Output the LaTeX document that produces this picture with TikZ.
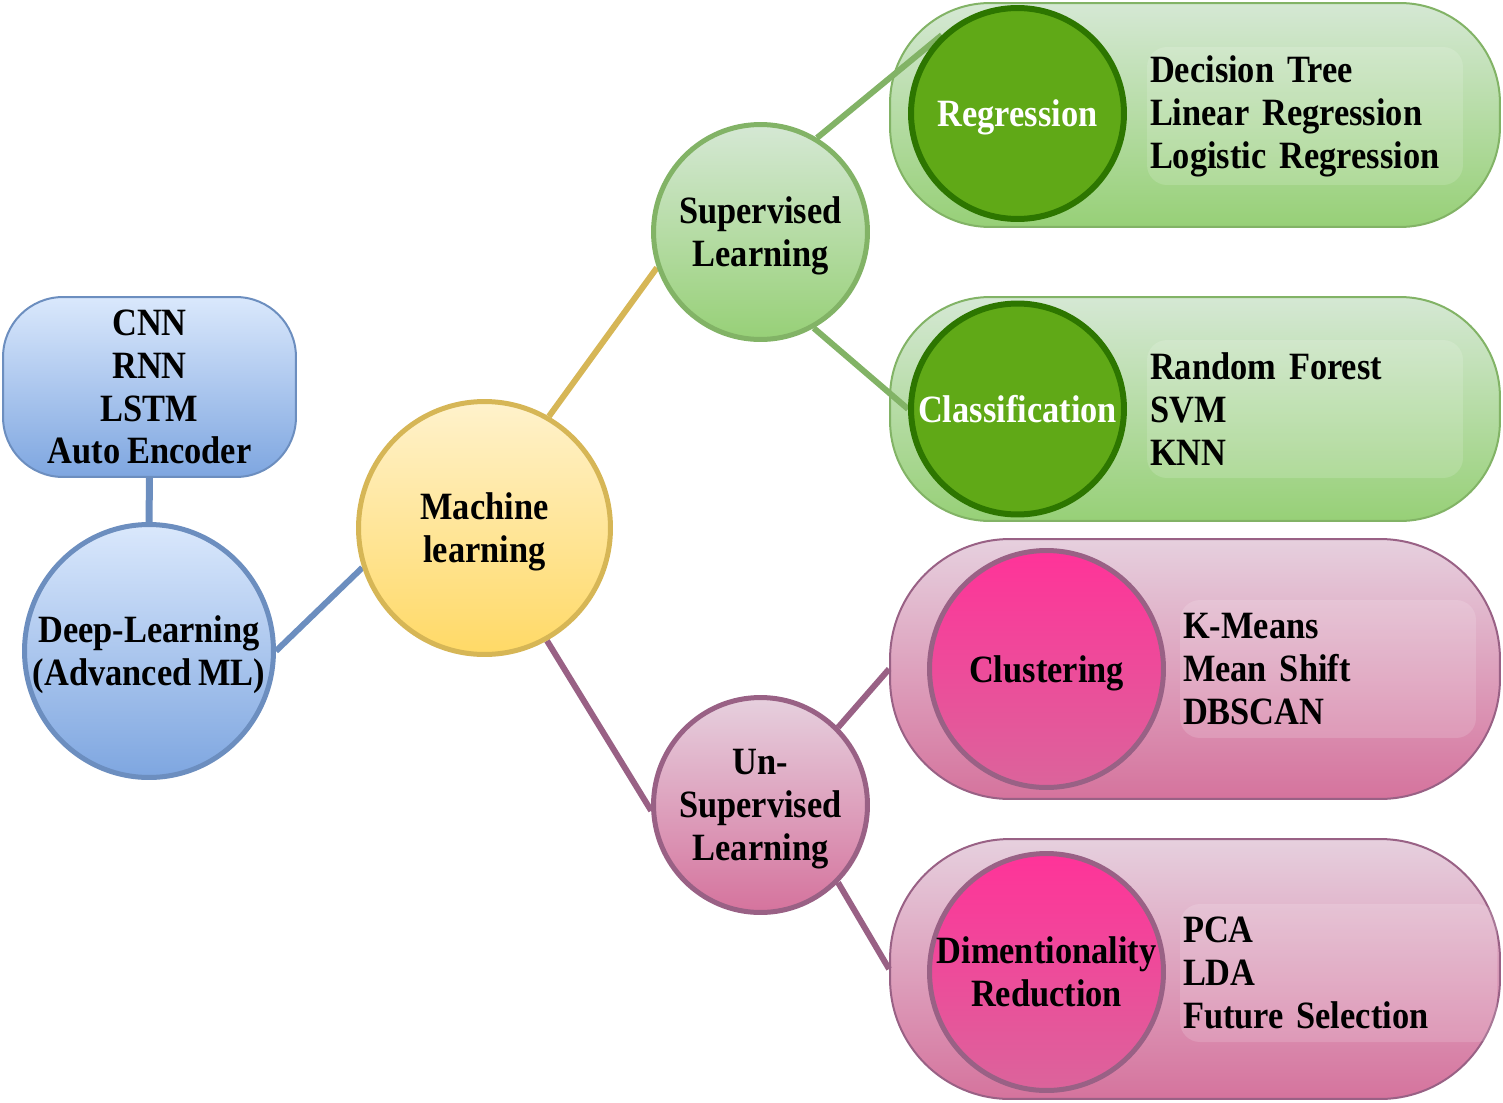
\documentclass[tikz,border=0pt]{standalone}
\usepackage{fontspec}
\setmainfont{Liberation Serif}[FakeStretch=0.89, WordSpace=0.8]
\usepackage{xcolor}
\usetikzlibrary{positioning,shapes.geometric}

\definecolor{dlline}{HTML}{6C8EBF}
\definecolor{dltop}{HTML}{DAE8FC}
\definecolor{dlbot}{HTML}{7EA6E0}
\definecolor{mlline}{HTML}{D6B656}
\definecolor{mltop}{HTML}{FFF2CC}
\definecolor{mlbot}{HTML}{FFD966}
\definecolor{supline}{HTML}{82B366}
\definecolor{suptop}{HTML}{D5E8D4}
\definecolor{supbot}{HTML}{97D077}
\definecolor{regfill}{HTML}{60A917}
\definecolor{regline}{HTML}{2D7600}
\definecolor{unsline}{HTML}{996185}
\definecolor{unstop}{HTML}{E6D0DE}
\definecolor{unsbot}{HTML}{D5739D}
\definecolor{clutop}{HTML}{FF3399}
\definecolor{clubot}{HTML}{DB649B}

\pgfdeclarelayer{panels}
\pgfdeclarelayer{links}
\pgfsetlayers{panels,links,main}

\begin{document}
\begin{tikzpicture}[x=0.02cm, y=-0.02cm,
  txt/.style={font=\bfseries\fontsize{22}{24.4}\selectfont, align=center},
  blob/.style={txt, text depth=0pt, ellipse, inner sep=-14mm, line width=1mm},
  dlblob/.style={blob, draw=dlline, top color=dltop, bottom color=dlbot, minimum width=49.8mm, minimum height=50.6mm},
  mlblob/.style={blob, draw=mlline, top color=mltop, bottom color=mlbot, minimum width=50.4mm, minimum height=50.6mm},
  supblob/.style={blob, draw=supline, top color=suptop, bottom color=supbot, minimum width=42.8mm, minimum height=43mm},
  unsblob/.style={blob, draw=unsline, top color=unstop, bottom color=unsbot, minimum width=42.8mm, minimum height=43mm},
  regblob/.style={blob, draw=regline, line width=1.2mm, fill=regfill, text=white, minimum width=42.6mm, minimum height=42.2mm},
  clublob/.style={blob, draw=unsline, top color=clutop, bottom color=clubot, minimum width=46.8mm, minimum height=47.4mm},
  suppanel/.style={draw=supline, line width=0.4mm, rounded corners=20mm, top color=suptop, bottom color=supbot, minimum width=122mm, minimum height=44.8mm},
  unspanel/.style={draw=unsline, line width=0.4mm, rounded corners=24mm, top color=unstop, bottom color=unsbot, minimum width=122mm, minimum height=52mm},
  listbox/.style={txt, align=left, rounded corners=4mm, fill=white, fill opacity=0.15, text opacity=1, inner xsep=0.6mm, minimum height=27.6mm},
  link/.style={line width=1.2mm}
]
\useasboundingbox (0,0) rectangle (1503,1102);

% deep learning branch
\node[txt, draw=dlline, line width=0.4mm, rounded corners=12mm, top color=dltop, bottom color=dlbot,
      minimum width=58.6mm, minimum height=36mm] (dlbox) at (149.5,387) {CNN\\RNN\\LSTM\\Auto Encoder};
\node[dlblob] (dl) at (149,651) {Deep-Learning\\(Advanced ML)};
\node[mlblob] (ml) at (484.5,528) {Machine\\learning};

% learning types
\node[supblob] (sup) at (760.5,232) {Supervised\\Learning};
\node[unsblob] (uns) at (760.5,805) {Un-\\Supervised\\Learning};

% panels with methods
\begin{pgfonlayer}{panels}
\node[suppanel] (regpanel) at (1195,115) {};
\node[suppanel] (clspanel) at (1195,409) {};
\node[unspanel] (clupanel) at (1195,669) {};
\node[unspanel] (dimpanel) at (1195,969) {};
\node[listbox, text width=62mm] (reglist) at (1305,116) {Decision Tree\\Linear Regression\\Logistic Regression};
\node[listbox, text width=62mm] (clslist) at (1305,409) {Random Forest\\SVM\\KNN};
\node[listbox, text width=58mm] (clulist) at (1328,669) {K-Means\\Mean Shift\\DBSCAN};
\node[listbox, text width=62.2mm] (dimlist) at (1338.5,973) {PCA\\LDA\\Future Selection};
\end{pgfonlayer}

\node[regblob] (reg) at (1017.5,113.5) {Regression};
\node[regblob] (cls) at (1017.5,409) {Classification};
\node[clublob] (clu) at (1046.5,669) {Clustering};
\node[clublob] (dim) at (1046.5,972) {Dimentionality\\Reduction};

\begin{pgfonlayer}{links}
\draw[link, dlline, line width=1.4mm] (dlbox.south) -- (dl.north);
\draw[link, dlline] (dl.east) -- (ml.198);
\draw[link, mlline] (ml.60) -- (sup.199);
\draw[link, unsline] (ml.-61) -- (uns.183);
\draw[link, supline] (sup.59) -- (reg.134);
\draw[link, supline] (sup.-61) -- (cls.west);
\draw[link, unsline] (uns.45) -- (clupanel.west);
\draw[link, unsline] (uns.-45) -- (dimpanel.west);
\end{pgfonlayer}
\end{tikzpicture}
\end{document}
